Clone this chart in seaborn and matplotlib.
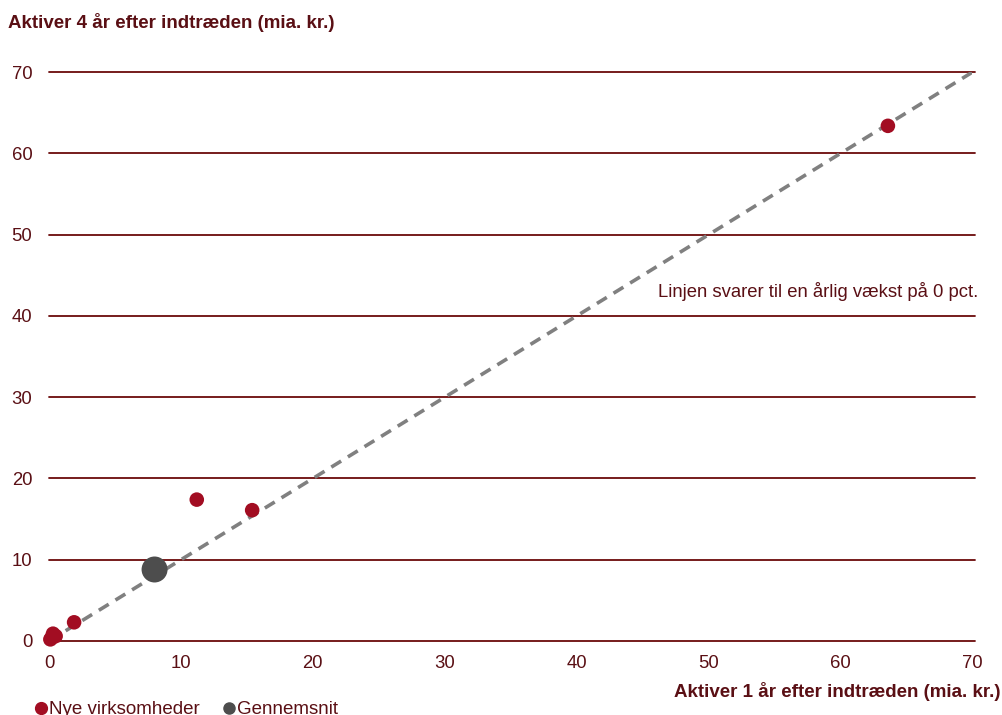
import matplotlib
matplotlib.use("Agg")
import matplotlib.pyplot as plt
from matplotlib.lines import Line2D
import seaborn as sns
import pandas as pd

# Assets one year and four years after entry (bn DKK)
new_x = [0.1, 0.2, 0.3, 0.5, 1.9, 11.2, 15.4, 63.6]
new_y = [0.2, 0.4, 0.9, 0.6, 2.3, 17.4, 16.1, 63.4]
avg_x = [8.0]
avg_y = [8.8]

ref_line = [0, 70]
ticks = [0, 10, 20, 30, 40, 50, 60, 70]

RED = "#a20d22"
GREY = "#4d4d4d"
DASH = "#808080"
GRID = "#6b0a0a"
TEXT = "#5a0f14"

sns.set_theme(style="white")
plt.rcParams["font.family"] = ["Liberation Sans", "DejaVu Sans"]

fig = plt.figure(figsize=(10.03, 7.15), dpi=100)
ax = fig.add_axes([0.0489, 0.1035, 0.9205, 0.7955])

for t in ticks:
    ax.axhline(t, xmin=0, xmax=1.003, color=GRID, lw=1.3, zorder=1, clip_on=False)

sns.lineplot(x=ref_line, y=ref_line, ax=ax, color=DASH, lw=2.6,
             linestyle=(0, (3.2, 2.2)), zorder=2)

new_df = pd.DataFrame({"x": new_x, "y": new_y})
avg_df = pd.DataFrame({"x": avg_x, "y": avg_y})
sns.scatterplot(data=new_df, x="x", y="y", ax=ax, color=RED, s=110,
                edgecolor="none", zorder=3, clip_on=False, legend=False)
sns.scatterplot(data=avg_df, x="x", y="y", ax=ax, color=GREY, s=350,
                edgecolor="none", zorder=4, clip_on=False, legend=False)

ax.set_xlim(0, 70)
ax.set_ylim(0, 70)
ax.set_xticks(ticks)
ax.set_yticks(ticks)
ax.tick_params(axis="both", length=0, labelsize=13.3, labelcolor=TEXT)
ax.tick_params(axis="x", pad=10)
ax.tick_params(axis="y", pad=12)
ax.set_xlabel("")
ax.set_ylabel("")
for s in ax.spines.values():
    s.set_visible(False)

ax.text(1.0065, 0.614, "Linjen svarer til en årlig vækst på 0 pct.",
        transform=ax.transAxes, ha="right", va="center", fontsize=13.3, color=TEXT)

fig.text(0.008, 0.969, "Aktiver 4 år efter indtræden (mia. kr.)",
         ha="left", va="center", fontsize=13.5, fontweight="bold", color=TEXT)
fig.text(0.998, 0.033, "Aktiver 1 år efter indtræden (mia. kr.)",
         ha="right", va="center", fontsize=13.5, fontweight="bold", color=TEXT)

handles = [
    Line2D([], [], marker="o", linestyle="none", color=RED, markersize=8.5, label="Nye virksomheder"),
    Line2D([], [], marker="o", linestyle="none", color=GREY, markersize=8.0, label="Gennemsnit"),
]
fig.legend(handles=handles, loc="lower left", bbox_to_anchor=(0.017, -0.028),
           ncol=2, frameon=False, fontsize=13.5, handletextpad=0.0,
           columnspacing=1.17, handlelength=0.8, labelcolor=TEXT)

fig.savefig("out.png", dpi=100)
